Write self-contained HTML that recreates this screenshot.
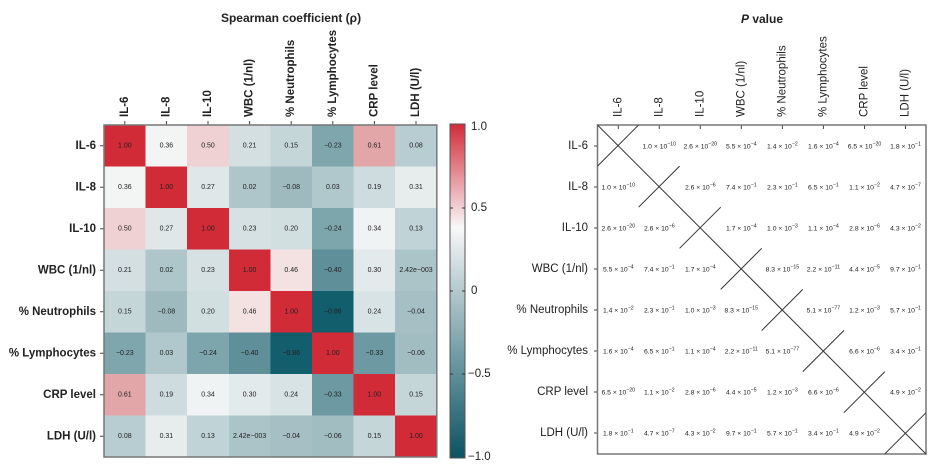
<!DOCTYPE html>
<html><head><meta charset="utf-8"><style>
html,body{margin:0;padding:0;background:#fff;}
svg{display:block;font-family:"Liberation Sans",Arial,sans-serif;}
.cv{font-size:7px;fill:#222;text-anchor:middle;dominant-baseline:central;}
.pv{font-size:6.8px;fill:#222;text-anchor:middle;}
.sp{font-size:5.2px;}
.lr{font-size:11.5px;font-weight:bold;fill:#222;text-anchor:end;dominant-baseline:central;}
.lc{font-size:11.5px;font-weight:bold;fill:#222;text-anchor:start;dominant-baseline:central;}
.rr{font-size:11.5px;fill:#222;text-anchor:end;dominant-baseline:central;}
.rc{font-size:11.5px;fill:#222;text-anchor:start;dominant-baseline:central;}
</style></head><body>
<svg width="942" height="465" viewBox="0 0 942 465">
<defs>
<linearGradient id="cb" x1="0" y1="0" x2="0" y2="1">
<stop offset="0" stop-color="#d22b38"/>
<stop offset="0.31" stop-color="#f8f8f8"/>
<stop offset="0.5" stop-color="#b3c9cd"/>
<stop offset="0.75" stop-color="#5e8f99"/>
<stop offset="1" stop-color="#0c5262"/>
</linearGradient>
</defs>
<text x="291" y="22" font-size="12" font-weight="bold" text-anchor="middle" fill="#222">Spearman coefficient (ρ)</text>
<text x="762" y="23" font-size="12" font-weight="bold" text-anchor="middle" fill="#222"><tspan font-style="italic">P</tspan> value</text>

<g>
<text class="lc" transform="translate(124.8,117) rotate(-90)">IL-6</text>
<text class="lc" transform="translate(166.4,117) rotate(-90)">IL-8</text>
<text class="lc" transform="translate(208,117) rotate(-90)">IL-10</text>
<text class="lc" transform="translate(249.6,117) rotate(-90)">WBC (1/nl)</text>
<text class="lc" transform="translate(291.2,117) rotate(-90)">% Neutrophils</text>
<text class="lc" transform="translate(332.8,117) rotate(-90)">% Lymphocytes</text>
<text class="lc" transform="translate(374.4,117) rotate(-90)">CRP level</text>
<text class="lc" transform="translate(416,117) rotate(-90)">LDH (U/l)</text>
</g>
<g stroke="#444" stroke-width="1">
<line x1="124.8" y1="121" x2="124.8" y2="125"/><line x1="166.4" y1="121" x2="166.4" y2="125"/><line x1="208" y1="121" x2="208" y2="125"/><line x1="249.6" y1="121" x2="249.6" y2="125"/><line x1="291.2" y1="121" x2="291.2" y2="125"/><line x1="332.8" y1="121" x2="332.8" y2="125"/><line x1="374.4" y1="121" x2="374.4" y2="125"/><line x1="416" y1="121" x2="416" y2="125"/>
<line x1="100" y1="145.75" x2="104" y2="145.75"/><line x1="100" y1="187.25" x2="104" y2="187.25"/><line x1="100" y1="228.75" x2="104" y2="228.75"/><line x1="100" y1="270.25" x2="104" y2="270.25"/><line x1="100" y1="311.75" x2="104" y2="311.75"/><line x1="100" y1="353.25" x2="104" y2="353.25"/><line x1="100" y1="394.75" x2="104" y2="394.75"/><line x1="100" y1="436.25" x2="104" y2="436.25"/>
</g>
<text class="lr" x="96" y="145.75">IL-6</text>
<text class="lr" x="96" y="187.25">IL-8</text>
<text class="lr" x="96" y="228.75">IL-10</text>
<text class="lr" x="96" y="270.25">WBC (1/nl)</text>
<text class="lr" x="96" y="311.75">% Neutrophils</text>
<text class="lr" x="96" y="353.25">% Lymphocytes</text>
<text class="lr" x="96" y="394.75">CRP level</text>
<text class="lr" x="96" y="436.25">LDH (U/l)</text>

<g shape-rendering="crispEdges">
<rect x="104" y="125" width="41.6" height="41.5" fill="#d22b38"/>
<rect x="145.6" y="125" width="41.6" height="41.5" fill="#f3f5f5"/>
<rect x="187.2" y="125" width="41.6" height="41.5" fill="#efd0d3"/>
<rect x="228.8" y="125" width="41.6" height="41.5" fill="#d3dfe1"/>
<rect x="270.4" y="125" width="41.6" height="41.5" fill="#c5d6d9"/>
<rect x="312" y="125" width="41.6" height="41.5" fill="#7fa6ad"/>
<rect x="353.6" y="125" width="41.6" height="41.5" fill="#e2a6a9"/>
<rect x="395.2" y="125" width="41.6" height="41.5" fill="#b8cdd1"/>

<rect x="104" y="166.5" width="41.6" height="41.5" fill="#f3f5f5"/>
<rect x="145.6" y="166.5" width="41.6" height="41.5" fill="#d22b38"/>
<rect x="187.2" y="166.5" width="41.6" height="41.5" fill="#dfe7e8"/>
<rect x="228.8" y="166.5" width="41.6" height="41.5" fill="#aec6ca"/>
<rect x="270.4" y="166.5" width="41.6" height="41.5" fill="#9ebabf"/>
<rect x="312" y="166.5" width="41.6" height="41.5" fill="#b0c7cb"/>
<rect x="353.6" y="166.5" width="41.6" height="41.5" fill="#cfdcdf"/>
<rect x="395.2" y="166.5" width="41.6" height="41.5" fill="#e7eded"/>

<rect x="104" y="208" width="41.6" height="41.5" fill="#efd0d3"/>
<rect x="145.6" y="208" width="41.6" height="41.5" fill="#dfe7e8"/>
<rect x="187.2" y="208" width="41.6" height="41.5" fill="#d22b38"/>
<rect x="228.8" y="208" width="41.6" height="41.5" fill="#d6e1e3"/>
<rect x="270.4" y="208" width="41.6" height="41.5" fill="#d2dfe0"/>
<rect x="312" y="208" width="41.6" height="41.5" fill="#7da5ac"/>
<rect x="353.6" y="208" width="41.6" height="41.5" fill="#eff3f3"/>
<rect x="395.2" y="208" width="41.6" height="41.5" fill="#c0d3d6"/>

<rect x="104" y="249.5" width="41.6" height="41.5" fill="#d3dfe1"/>
<rect x="145.6" y="249.5" width="41.6" height="41.5" fill="#aec6ca"/>
<rect x="187.2" y="249.5" width="41.6" height="41.5" fill="#d6e1e3"/>
<rect x="228.8" y="249.5" width="41.6" height="41.5" fill="#d22b38"/>
<rect x="270.4" y="249.5" width="41.6" height="41.5" fill="#f4e2e2"/>
<rect x="312" y="249.5" width="41.6" height="41.5" fill="#5f8f99"/>
<rect x="353.6" y="249.5" width="41.6" height="41.5" fill="#e3eaeb"/>
<rect x="395.2" y="249.5" width="41.6" height="41.5" fill="#abc4c8"/>

<rect x="104" y="291" width="41.6" height="41.5" fill="#c5d6d9"/>
<rect x="145.6" y="291" width="41.6" height="41.5" fill="#9ebabf"/>
<rect x="187.2" y="291" width="41.6" height="41.5" fill="#d2dfe0"/>
<rect x="228.8" y="291" width="41.6" height="41.5" fill="#f4e2e2"/>
<rect x="270.4" y="291" width="41.6" height="41.5" fill="#d22b38"/>
<rect x="312" y="291" width="41.6" height="41.5" fill="#135e6d"/>
<rect x="353.6" y="291" width="41.6" height="41.5" fill="#d8e3e5"/>
<rect x="395.2" y="291" width="41.6" height="41.5" fill="#a5bfc4"/>

<rect x="104" y="332.5" width="41.6" height="41.5" fill="#7fa6ad"/>
<rect x="145.6" y="332.5" width="41.6" height="41.5" fill="#b0c7cb"/>
<rect x="187.2" y="332.5" width="41.6" height="41.5" fill="#7da5ac"/>
<rect x="228.8" y="332.5" width="41.6" height="41.5" fill="#5f8f99"/>
<rect x="270.4" y="332.5" width="41.6" height="41.5" fill="#135e6d"/>
<rect x="312" y="332.5" width="41.6" height="41.5" fill="#d22b38"/>
<rect x="353.6" y="332.5" width="41.6" height="41.5" fill="#6c99a2"/>
<rect x="395.2" y="332.5" width="41.6" height="41.5" fill="#a2bdc2"/>

<rect x="104" y="374" width="41.6" height="41.5" fill="#e2a6a9"/>
<rect x="145.6" y="374" width="41.6" height="41.5" fill="#cfdcdf"/>
<rect x="187.2" y="374" width="41.6" height="41.5" fill="#eff3f3"/>
<rect x="228.8" y="374" width="41.6" height="41.5" fill="#e3eaeb"/>
<rect x="270.4" y="374" width="41.6" height="41.5" fill="#d8e3e5"/>
<rect x="312" y="374" width="41.6" height="41.5" fill="#6c99a2"/>
<rect x="353.6" y="374" width="41.6" height="41.5" fill="#d22b38"/>
<rect x="395.2" y="374" width="41.6" height="41.5" fill="#c5d6d9"/>

<rect x="104" y="415.5" width="41.6" height="41.5" fill="#b8cdd1"/>
<rect x="145.6" y="415.5" width="41.6" height="41.5" fill="#e7eded"/>
<rect x="187.2" y="415.5" width="41.6" height="41.5" fill="#c0d3d6"/>
<rect x="228.8" y="415.5" width="41.6" height="41.5" fill="#abc4c8"/>
<rect x="270.4" y="415.5" width="41.6" height="41.5" fill="#a5bfc4"/>
<rect x="312" y="415.5" width="41.6" height="41.5" fill="#a2bdc2"/>
<rect x="353.6" y="415.5" width="41.6" height="41.5" fill="#c5d6d9"/>
<rect x="395.2" y="415.5" width="41.6" height="41.5" fill="#d22b38"/>
</g>
<rect x="104" y="125" width="332.8" height="332" fill="none" stroke="#777" stroke-width="1.5"/>

<g class="cv">
<text class="cv" x="124.8" y="145.75">1.00</text><text class="cv" x="166.4" y="145.75">0.36</text><text class="cv" x="208" y="145.75">0.50</text><text class="cv" x="249.6" y="145.75">0.21</text><text class="cv" x="291.2" y="145.75">0.15</text><text class="cv" x="332.8" y="145.75">−0.23</text><text class="cv" x="374.4" y="145.75">0.61</text><text class="cv" x="416" y="145.75">0.08</text>
<text class="cv" x="124.8" y="187.25">0.36</text><text class="cv" x="166.4" y="187.25">1.00</text><text class="cv" x="208" y="187.25">0.27</text><text class="cv" x="249.6" y="187.25">0.02</text><text class="cv" x="291.2" y="187.25">−0.08</text><text class="cv" x="332.8" y="187.25">0.03</text><text class="cv" x="374.4" y="187.25">0.19</text><text class="cv" x="416" y="187.25">0.31</text>
<text class="cv" x="124.8" y="228.75">0.50</text><text class="cv" x="166.4" y="228.75">0.27</text><text class="cv" x="208" y="228.75">1.00</text><text class="cv" x="249.6" y="228.75">0.23</text><text class="cv" x="291.2" y="228.75">0.20</text><text class="cv" x="332.8" y="228.75">−0.24</text><text class="cv" x="374.4" y="228.75">0.34</text><text class="cv" x="416" y="228.75">0.13</text>
<text class="cv" x="124.8" y="270.25">0.21</text><text class="cv" x="166.4" y="270.25">0.02</text><text class="cv" x="208" y="270.25">0.23</text><text class="cv" x="249.6" y="270.25">1.00</text><text class="cv" x="291.2" y="270.25">0.46</text><text class="cv" x="332.8" y="270.25">−0.40</text><text class="cv" x="374.4" y="270.25">0.30</text><text class="cv" x="416" y="270.25">2.42e−003</text>
<text class="cv" x="124.8" y="311.75">0.15</text><text class="cv" x="166.4" y="311.75">−0.08</text><text class="cv" x="208" y="311.75">0.20</text><text class="cv" x="249.6" y="311.75">0.46</text><text class="cv" x="291.2" y="311.75">1.00</text><text class="cv" x="332.8" y="311.75">−0.86</text><text class="cv" x="374.4" y="311.75">0.24</text><text class="cv" x="416" y="311.75">−0.04</text>
<text class="cv" x="124.8" y="353.25">−0.23</text><text class="cv" x="166.4" y="353.25">0.03</text><text class="cv" x="208" y="353.25">−0.24</text><text class="cv" x="249.6" y="353.25">−0.40</text><text class="cv" x="291.2" y="353.25">−0.86</text><text class="cv" x="332.8" y="353.25">1.00</text><text class="cv" x="374.4" y="353.25">−0.33</text><text class="cv" x="416" y="353.25">−0.06</text>
<text class="cv" x="124.8" y="394.75">0.61</text><text class="cv" x="166.4" y="394.75">0.19</text><text class="cv" x="208" y="394.75">0.34</text><text class="cv" x="249.6" y="394.75">0.30</text><text class="cv" x="291.2" y="394.75">0.24</text><text class="cv" x="332.8" y="394.75">−0.33</text><text class="cv" x="374.4" y="394.75">1.00</text><text class="cv" x="416" y="394.75">0.15</text>
<text class="cv" x="124.8" y="436.25">0.08</text><text class="cv" x="166.4" y="436.25">0.31</text><text class="cv" x="208" y="436.25">0.13</text><text class="cv" x="249.6" y="436.25">2.42e−003</text><text class="cv" x="291.2" y="436.25">−0.04</text><text class="cv" x="332.8" y="436.25">−0.06</text><text class="cv" x="374.4" y="436.25">0.15</text><text class="cv" x="416" y="436.25">1.00</text>
</g>

<rect x="450" y="124" width="15" height="334" fill="url(#cb)" stroke="#555" stroke-width="1"/>
<g stroke="#333" stroke-width="1">
<line x1="450" y1="208" x2="453" y2="208"/><line x1="462" y1="208" x2="465" y2="208"/>
<line x1="450" y1="291" x2="453" y2="291"/><line x1="462" y1="291" x2="465" y2="291"/>
<line x1="450" y1="374" x2="453" y2="374"/><line x1="462" y1="374" x2="465" y2="374"/>
</g>
<g font-size="11.5" fill="#222" dominant-baseline="central">
<text x="471" y="127">1.0</text><text x="471" y="208">0.5</text><text x="471" y="291">0</text><text x="468" y="374">−0.5</text><text x="468" y="457">−1.0</text>
</g>

<text class="rc" transform="translate(618.3,117) rotate(-90)">IL-6</text>
<text class="rc" transform="translate(659.3,117) rotate(-90)">IL-8</text>
<text class="rc" transform="translate(700.3,117) rotate(-90)">IL-10</text>
<text class="rc" transform="translate(741.3,117) rotate(-90)">WBC (1/nl)</text>
<text class="rc" transform="translate(782.4,117) rotate(-90)">% Neutrophils</text>
<text class="rc" transform="translate(823.4,117) rotate(-90)">% Lymphocytes</text>
<text class="rc" transform="translate(864.5,117) rotate(-90)">CRP level</text>
<text class="rc" transform="translate(905.5,117) rotate(-90)">LDH (U/l)</text>
<text class="rr" x="588" y="146">IL-6</text>
<text class="rr" x="588" y="187">IL-8</text>
<text class="rr" x="588" y="228">IL-10</text>
<text class="rr" x="588" y="269">WBC (1/nl)</text>
<text class="rr" x="588" y="310">% Neutrophils</text>
<text class="rr" x="588" y="351">% Lymphocytes</text>
<text class="rr" x="588" y="392">CRP level</text>
<text class="rr" x="588" y="433">LDH (U/l)</text>
<g stroke="#444" stroke-width="1">
<line x1="618.3" y1="125" x2="618.3" y2="129"/><line x1="659.3" y1="125" x2="659.3" y2="129"/><line x1="700.3" y1="125" x2="700.3" y2="129"/><line x1="741.3" y1="125" x2="741.3" y2="129"/><line x1="782.4" y1="125" x2="782.4" y2="129"/><line x1="823.4" y1="125" x2="823.4" y2="129"/><line x1="864.5" y1="125" x2="864.5" y2="129"/><line x1="905.5" y1="125" x2="905.5" y2="129"/>
<line x1="594" y1="146" x2="597.5" y2="146"/><line x1="594" y1="187" x2="597.5" y2="187"/><line x1="594" y1="228" x2="597.5" y2="228"/><line x1="594" y1="269" x2="597.5" y2="269"/><line x1="594" y1="310" x2="597.5" y2="310"/><line x1="594" y1="351" x2="597.5" y2="351"/><line x1="594" y1="392" x2="597.5" y2="392"/><line x1="594" y1="433" x2="597.5" y2="433"/>
</g>
<rect x="597.5" y="125" width="328.5" height="329" fill="none" stroke="#777" stroke-width="1.5"/>
<g stroke="#333" stroke-width="1">
<line x1="597.5" y1="125" x2="926" y2="454"/>
<line x1="638.6" y1="125" x2="597.5" y2="166.1"/>
<line x1="679.6" y1="166.1" x2="638.6" y2="207.2"/>
<line x1="720.7" y1="207.2" x2="679.6" y2="248.3"/>
<line x1="761.7" y1="248.3" x2="720.7" y2="289.4"/>
<line x1="802.8" y1="289.4" x2="761.7" y2="330.5"/>
<line x1="843.9" y1="330.5" x2="802.8" y2="371.6"/>
<line x1="884.9" y1="371.6" x2="843.9" y2="412.7"/>
<line x1="926" y1="412.7" x2="884.9" y2="453.8"/>
</g>

<g>
<text class="pv" x="659.3" y="148.5">1.0 × 10<tspan class="sp" dy="-3">−10</tspan></text>
<text class="pv" x="700.3" y="148.5">2.6 × 10<tspan class="sp" dy="-3">−20</tspan></text>
<text class="pv" x="741.3" y="148.5">5.5 × 10<tspan class="sp" dy="-3">−4</tspan></text>
<text class="pv" x="782.4" y="148.5">1.4 × 10<tspan class="sp" dy="-3">−2</tspan></text>
<text class="pv" x="823.4" y="148.5">1.6 × 10<tspan class="sp" dy="-3">−4</tspan></text>
<text class="pv" x="864.5" y="148.5">6.5 × 10<tspan class="sp" dy="-3">−20</tspan></text>
<text class="pv" x="905.5" y="148.5">1.8 × 10<tspan class="sp" dy="-3">−1</tspan></text>

<text class="pv" x="618.3" y="189.5">1.0 × 10<tspan class="sp" dy="-3">−10</tspan></text>
<text class="pv" x="700.3" y="189.5">2.6 × 10<tspan class="sp" dy="-3">−6</tspan></text>
<text class="pv" x="741.3" y="189.5">7.4 × 10<tspan class="sp" dy="-3">−1</tspan></text>
<text class="pv" x="782.4" y="189.5">2.3 × 10<tspan class="sp" dy="-3">−1</tspan></text>
<text class="pv" x="823.4" y="189.5">6.5 × 10<tspan class="sp" dy="-3">−1</tspan></text>
<text class="pv" x="864.5" y="189.5">1.1 × 10<tspan class="sp" dy="-3">−2</tspan></text>
<text class="pv" x="905.5" y="189.5">4.7 × 10<tspan class="sp" dy="-3">−7</tspan></text>

<text class="pv" x="618.3" y="230.5">2.6 × 10<tspan class="sp" dy="-3">−20</tspan></text>
<text class="pv" x="659.3" y="230.5">2.6 × 10<tspan class="sp" dy="-3">−6</tspan></text>
<text class="pv" x="741.3" y="230.5">1.7 × 10<tspan class="sp" dy="-3">−4</tspan></text>
<text class="pv" x="782.4" y="230.5">1.0 × 10<tspan class="sp" dy="-3">−3</tspan></text>
<text class="pv" x="823.4" y="230.5">1.1 × 10<tspan class="sp" dy="-3">−4</tspan></text>
<text class="pv" x="864.5" y="230.5">2.8 × 10<tspan class="sp" dy="-3">−6</tspan></text>
<text class="pv" x="905.5" y="230.5">4.3 × 10<tspan class="sp" dy="-3">−2</tspan></text>

<text class="pv" x="618.3" y="271.5">5.5 × 10<tspan class="sp" dy="-3">−4</tspan></text>
<text class="pv" x="659.3" y="271.5">7.4 × 10<tspan class="sp" dy="-3">−1</tspan></text>
<text class="pv" x="700.3" y="271.5">1.7 × 10<tspan class="sp" dy="-3">−4</tspan></text>
<text class="pv" x="782.4" y="271.5">8.3 × 10<tspan class="sp" dy="-3">−15</tspan></text>
<text class="pv" x="823.4" y="271.5">2.2 × 10<tspan class="sp" dy="-3">−11</tspan></text>
<text class="pv" x="864.5" y="271.5">4.4 × 10<tspan class="sp" dy="-3">−5</tspan></text>
<text class="pv" x="905.5" y="271.5">9.7 × 10<tspan class="sp" dy="-3">−1</tspan></text>

<text class="pv" x="618.3" y="312.5">1.4 × 10<tspan class="sp" dy="-3">−2</tspan></text>
<text class="pv" x="659.3" y="312.5">2.3 × 10<tspan class="sp" dy="-3">−1</tspan></text>
<text class="pv" x="700.3" y="312.5">1.0 × 10<tspan class="sp" dy="-3">−3</tspan></text>
<text class="pv" x="741.3" y="312.5">8.3 × 10<tspan class="sp" dy="-3">−15</tspan></text>
<text class="pv" x="823.4" y="312.5">5.1 × 10<tspan class="sp" dy="-3">−77</tspan></text>
<text class="pv" x="864.5" y="312.5">1.2 × 10<tspan class="sp" dy="-3">−3</tspan></text>
<text class="pv" x="905.5" y="312.5">5.7 × 10<tspan class="sp" dy="-3">−1</tspan></text>

<text class="pv" x="618.3" y="353.5">1.6 × 10<tspan class="sp" dy="-3">−4</tspan></text>
<text class="pv" x="659.3" y="353.5">6.5 × 10<tspan class="sp" dy="-3">−1</tspan></text>
<text class="pv" x="700.3" y="353.5">1.1 × 10<tspan class="sp" dy="-3">−4</tspan></text>
<text class="pv" x="741.3" y="353.5">2.2 × 10<tspan class="sp" dy="-3">−11</tspan></text>
<text class="pv" x="782.4" y="353.5">5.1 × 10<tspan class="sp" dy="-3">−77</tspan></text>
<text class="pv" x="864.5" y="353.5">6.6 × 10<tspan class="sp" dy="-3">−6</tspan></text>
<text class="pv" x="905.5" y="353.5">3.4 × 10<tspan class="sp" dy="-3">−1</tspan></text>

<text class="pv" x="618.3" y="394.5">6.5 × 10<tspan class="sp" dy="-3">−20</tspan></text>
<text class="pv" x="659.3" y="394.5">1.1 × 10<tspan class="sp" dy="-3">−2</tspan></text>
<text class="pv" x="700.3" y="394.5">2.8 × 10<tspan class="sp" dy="-3">−6</tspan></text>
<text class="pv" x="741.3" y="394.5">4.4 × 10<tspan class="sp" dy="-3">−5</tspan></text>
<text class="pv" x="782.4" y="394.5">1.2 × 10<tspan class="sp" dy="-3">−3</tspan></text>
<text class="pv" x="823.4" y="394.5">6.6 × 10<tspan class="sp" dy="-3">−6</tspan></text>
<text class="pv" x="905.5" y="394.5">4.9 × 10<tspan class="sp" dy="-3">−2</tspan></text>

<text class="pv" x="618.3" y="435.5">1.8 × 10<tspan class="sp" dy="-3">−1</tspan></text>
<text class="pv" x="659.3" y="435.5">4.7 × 10<tspan class="sp" dy="-3">−7</tspan></text>
<text class="pv" x="700.3" y="435.5">4.3 × 10<tspan class="sp" dy="-3">−2</tspan></text>
<text class="pv" x="741.3" y="435.5">9.7 × 10<tspan class="sp" dy="-3">−1</tspan></text>
<text class="pv" x="782.4" y="435.5">5.7 × 10<tspan class="sp" dy="-3">−1</tspan></text>
<text class="pv" x="823.4" y="435.5">3.4 × 10<tspan class="sp" dy="-3">−1</tspan></text>
<text class="pv" x="864.5" y="435.5">4.9 × 10<tspan class="sp" dy="-3">−2</tspan></text>
</g>
</svg>
</body></html>
